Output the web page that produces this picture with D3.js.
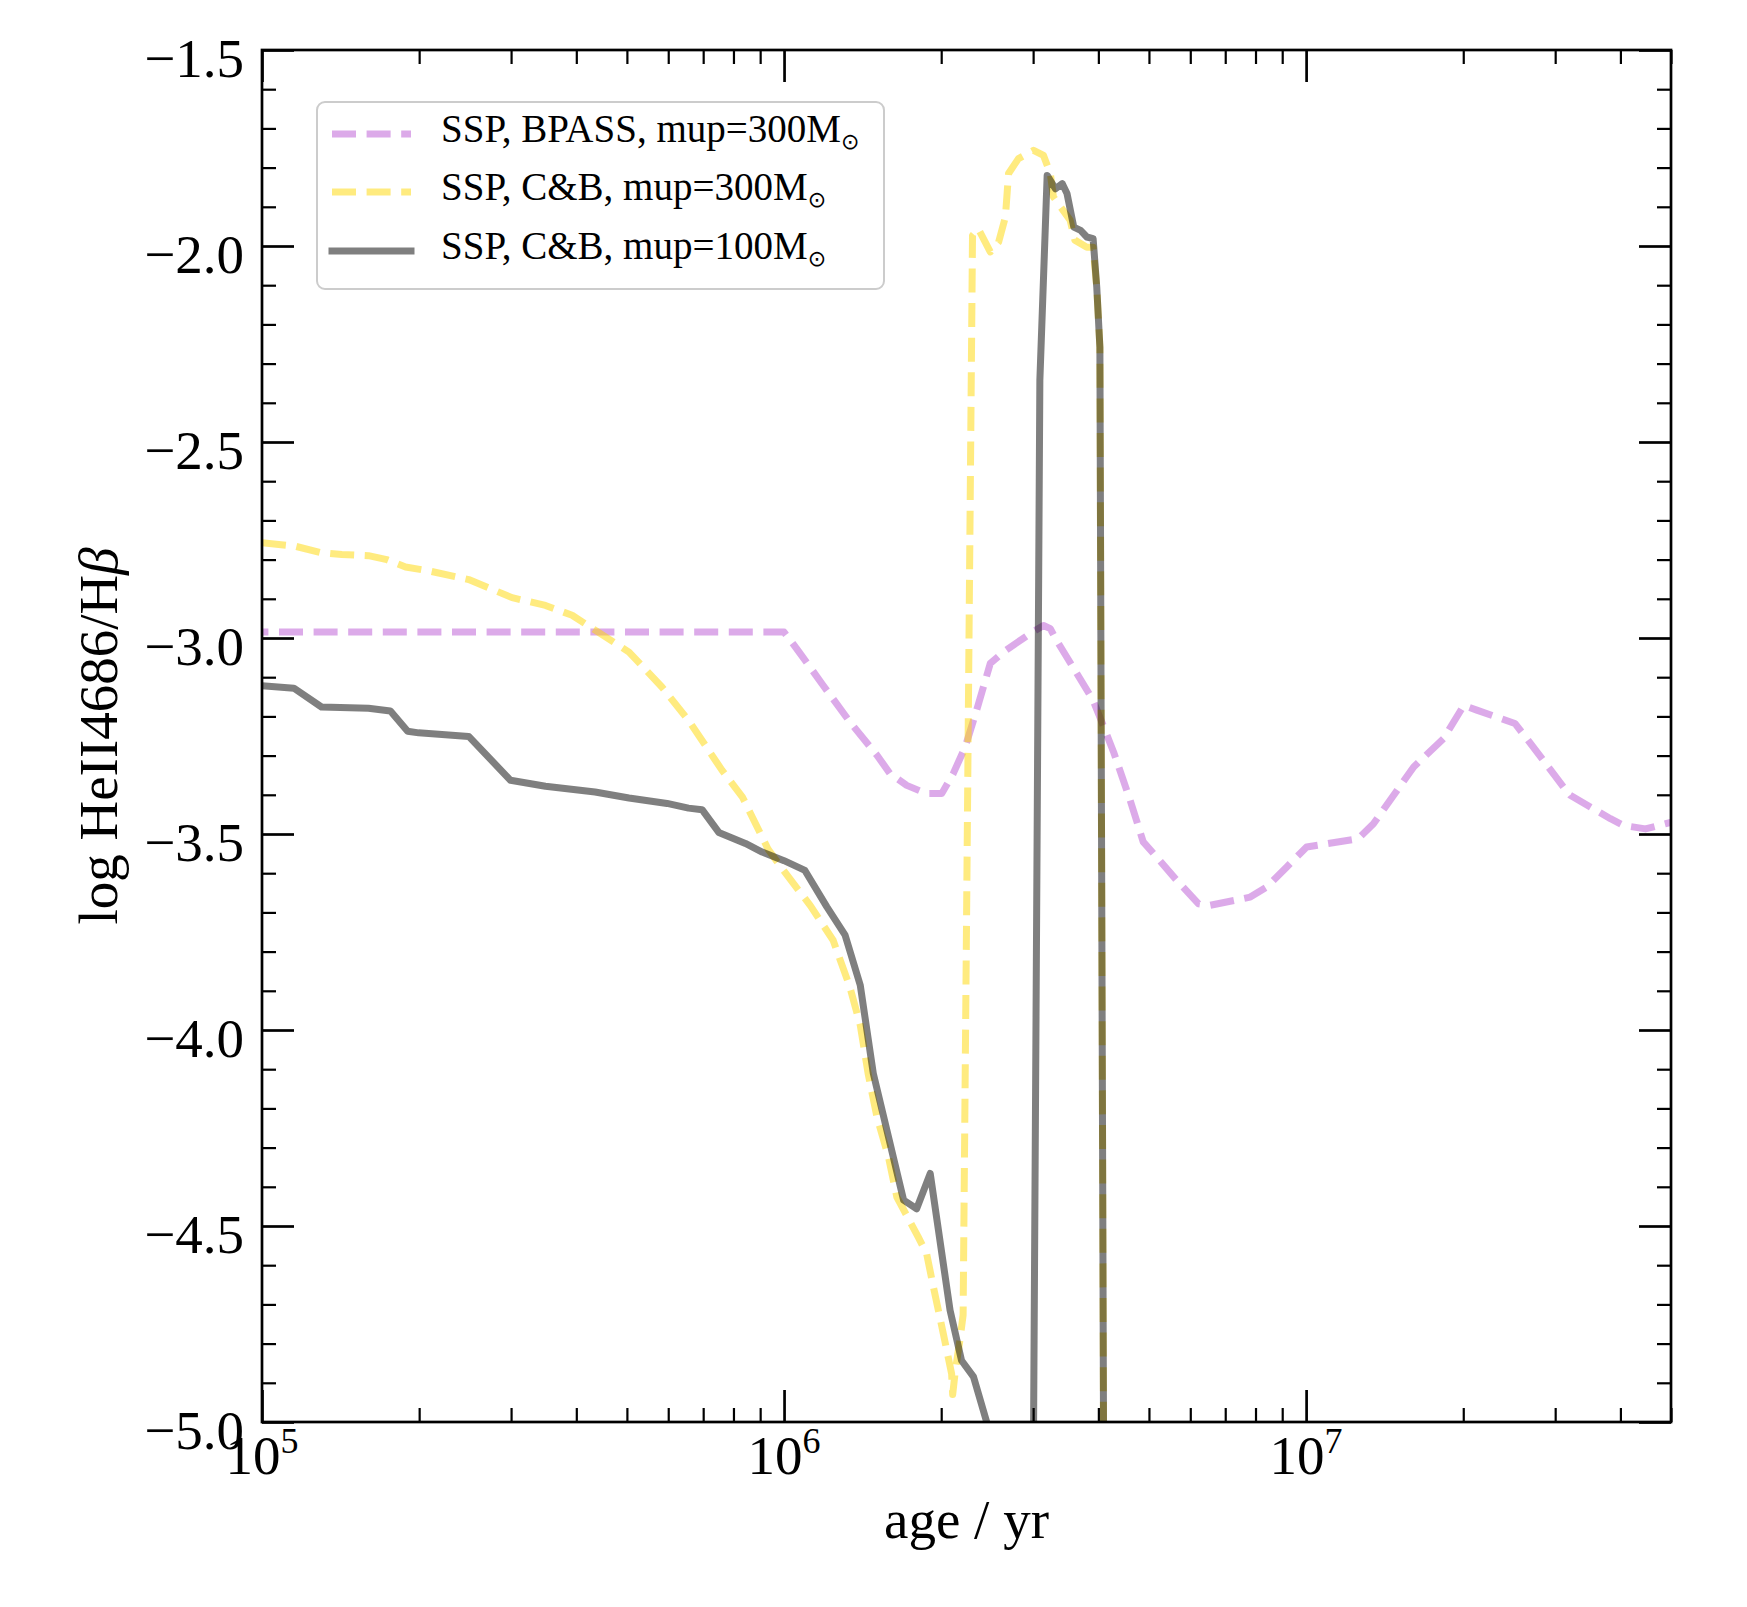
<!DOCTYPE html>
<html>
<head>
<meta charset="utf-8">
<script src="https://cdn.jsdelivr.net/npm/d3@7"></script>
<style>
  body { margin: 0; background: #fff; }
  text { font-family: "Liberation Serif", "DejaVu Serif", serif; fill: #000; }
</style>
</head>
<body>
<div id="chart"></div>
<script>
// values, x as log10(age / yr), y as log HeII4686/Hbeta
const bpassLogAge = [4.9, 6.0, 6.024, 6.075, 6.126, 6.178, 6.203, 6.235, 6.273, 6.302, 6.324, 6.347,
  6.369, 6.395, 6.42, 6.471, 6.497, 6.51, 6.522, 6.567, 6.592, 6.605, 6.631, 6.663, 6.688, 6.714,
  6.752, 6.794, 6.816, 6.893, 6.925, 6.963, 7.001, 7.1, 7.129, 7.206, 7.263, 7.302, 7.327, 7.4,
  7.423, 7.493, 7.506, 7.583, 7.608, 7.65, 7.7];
const bpassRatio = [-2.985, -2.985, -3.027, -3.121, -3.214, -3.299, -3.346, -3.376, -3.397, -3.397,
  -3.346, -3.278, -3.184, -3.065, -3.036, -2.989, -2.968, -2.976, -3.006, -3.104, -3.159, -3.202,
  -3.29, -3.414, -3.52, -3.559, -3.618, -3.678, -3.682, -3.661, -3.635, -3.584, -3.533, -3.512,
  -3.474, -3.329, -3.257, -3.172, -3.184, -3.218, -3.257, -3.38, -3.401, -3.461, -3.478, -3.487, -3.47];

const cb300LogAge = [5.0, 5.064, 5.112, 5.153, 5.204, 5.239, 5.275, 5.32, 5.396, 5.479, 5.543, 5.594,
  5.638, 5.703, 5.766, 5.817, 5.881, 5.92, 5.97, 5.999, 6.05, 6.094, 6.126, 6.146, 6.161, 6.178,
  6.2, 6.216, 6.257, 6.273, 6.286, 6.305, 6.321, 6.323, 6.328, 6.337, 6.343, 6.361, 6.372, 6.395,
  6.411, 6.424, 6.43, 6.449, 6.478, 6.497, 6.51, 6.516, 6.548, 6.557, 6.58, 6.592, 6.599, 6.605,
  6.622, 7.7];
const cb300Ratio = [-2.757, -2.766, -2.782, -2.787, -2.79, -2.8, -2.819, -2.829, -2.851, -2.897,
  -2.917, -2.942, -2.98, -3.036, -3.125, -3.21, -3.337, -3.405, -3.54, -3.593, -3.682, -3.771,
  -3.89, -3.988, -4.111, -4.222, -4.324, -4.426, -4.528, -4.57, -4.655, -4.774, -4.877, -4.93,
  -4.87, -4.79, -4.727, -1.973, -1.956, -2.015, -1.99, -1.926, -1.815, -1.777, -1.756, -1.769,
  -1.815, -1.875, -1.934, -1.985, -2.003, -2.003, -2.105, -2.258, -9, -9];

const cb100LogAge = [5.0, 5.061, 5.114, 5.204, 5.246, 5.279, 5.3, 5.396, 5.476, 5.543, 5.638, 5.703,
  5.776, 5.817, 5.843, 5.875, 5.926, 5.958, 6.0, 6.04, 6.082, 6.117, 6.146, 6.171, 6.229, 6.254,
  6.28, 6.318, 6.34, 6.363, 6.41, 6.44, 6.46, 6.49, 6.504, 6.52, 6.533, 6.542, 6.555, 6.568, 6.58,
  6.592, 6.599, 6.605, 6.622, 7.7];
const cb100Ratio = [-3.122, -3.128, -3.176, -3.179, -3.186, -3.238, -3.242, -3.251, -3.363, -3.378,
  -3.393, -3.408, -3.422, -3.434, -3.438, -3.496, -3.524, -3.546, -3.568, -3.593, -3.686, -3.758,
  -3.886, -4.111, -4.434, -4.456, -4.366, -4.715, -4.843, -4.885, -5.1, -9, -9, -2.343, -1.82,
  -1.854, -1.841, -1.866, -1.952, -1.96, -1.977, -1.981, -2.105, -2.258, -9, -9];

const seriesNames = ["SSP, BPASS, mup=300", "SSP, C&B, mup=300", "SSP, C&B, mup=100"];
const xTickExps = [5, 6, 7];
const yMajorTicks = [-5.0, -4.5, -4.0, -3.5, -3.0, -2.5, -2.0, -1.5];

const WIDTH = 1747, HEIGHT = 1607;
const PLOT = { left: 262, right: 1671, top: 50, bottom: 1422 };
const LW = 7;

const X_SCALE = d3.scaleLog().domain([1e5, 5e7]).range([PLOT.left, PLOT.right]);
const Y_SCALE = d3.scaleLinear().domain([-5, -1.5]).range([PLOT.bottom, PLOT.top]);

const svg = d3.select("#chart").append("svg")
  .attr("width", WIDTH).attr("height", HEIGHT);

svg.append("defs").append("clipPath").attr("id", "plotclip")
  .append("rect")
  .attr("x", PLOT.left).attr("y", PLOT.top)
  .attr("width", PLOT.right - PLOT.left).attr("height", PLOT.bottom - PLOT.top);

const series = [
  { x: bpassLogAge, y: bpassRatio, color: "#ba55d3", dash: "24 10.6", cap: "butt" },
  { x: cb300LogAge, y: cb300Ratio, color: "#ffd700", dash: "24 10.6", cap: "butt" },
  { x: cb100LogAge, y: cb100Ratio, color: "#000000", dash: null, cap: "square" },
];

const line = d3.line()
  .x((d) => X_SCALE(Math.pow(10, d[0])))
  .y((d) => Y_SCALE(d[1]));

const lines = svg.append("g").attr("clip-path", "url(#plotclip)");
series.forEach((s) => {
  lines.append("path")
    .datum(d3.zip(s.x, s.y))
    .attr("d", line)
    .attr("fill", "none")
    .attr("stroke", s.color)
    .attr("stroke-opacity", 0.5)
    .attr("stroke-width", LW)
    .attr("stroke-linejoin", "round")
    .attr("stroke-linecap", s.cap)
    .attr("stroke-dasharray", s.dash);
});

// ticks (inward, all four sides)
const xMajor = xTickExps.map((e) => Math.pow(10, e));
const xMinor = X_SCALE.ticks().filter((v) => !xMajor.includes(v));
const yMinor = d3.range(-50, -14).map((v) => v / 10).filter((v) => Math.abs(v * 2 - Math.round(v * 2)) > 1e-6);

function tickGroup(axis, tx, ty, w) {
  const g = svg.append("g").attr("transform", "translate(" + tx + "," + ty + ")").call(axis);
  g.select(".domain").remove();
  g.selectAll("line").attr("stroke", "#000").attr("stroke-width", w);
  g.selectAll("text").remove();
  return g;
}

tickGroup(d3.axisBottom(X_SCALE).tickValues(xMajor).tickSize(-32), 0, PLOT.bottom, 2.7);
tickGroup(d3.axisBottom(X_SCALE).tickValues(xMinor).tickSize(-14), 0, PLOT.bottom, 2.2);
tickGroup(d3.axisTop(X_SCALE).tickValues(xMajor).tickSize(-32), 0, PLOT.top, 2.7);
tickGroup(d3.axisTop(X_SCALE).tickValues(xMinor).tickSize(-14), 0, PLOT.top, 2.2);
tickGroup(d3.axisLeft(Y_SCALE).tickValues(yMajorTicks).tickSize(-32), PLOT.left, 0, 2.7);
tickGroup(d3.axisLeft(Y_SCALE).tickValues(yMinor).tickSize(-14), PLOT.left, 0, 2.2);
tickGroup(d3.axisRight(Y_SCALE).tickValues(yMajorTicks).tickSize(-32), PLOT.right, 0, 2.7);
tickGroup(d3.axisRight(Y_SCALE).tickValues(yMinor).tickSize(-14), PLOT.right, 0, 2.2);

// frame
svg.append("rect")
  .attr("x", PLOT.left).attr("y", PLOT.top)
  .attr("width", PLOT.right - PLOT.left).attr("height", PLOT.bottom - PLOT.top)
  .attr("fill", "none").attr("stroke", "#000").attr("stroke-width", 2.7);

// y tick labels
svg.append("g").selectAll("text")
  .data(yMajorTicks)
  .enter()
  .append("text")
  .attr("x", PLOT.left - 18)
  .attr("y", (d) => Y_SCALE(d) + 27)
  .attr("text-anchor", "end")
  .attr("font-size", "55px")
  .text((d) => d3.format(".1f")(d));

// x tick labels 10^n
const xl = svg.append("g").selectAll("text")
  .data(xTickExps)
  .enter()
  .append("text")
  .attr("x", (d) => X_SCALE(Math.pow(10, d)))
  .attr("y", 1474)
  .attr("text-anchor", "middle")
  .attr("font-size", "55px");
xl.append("tspan").text("10");
xl.append("tspan").attr("font-size", "36px").attr("dy", -21).text((d) => d);

// axis labels
svg.append("text")
  .attr("x", (PLOT.left + PLOT.right) / 2)
  .attr("y", 1538)
  .attr("text-anchor", "middle")
  .attr("font-size", "55px")
  .text("age / yr");

const yl = svg.append("text")
  .attr("transform", "translate(117," + (PLOT.top + PLOT.bottom) / 2 + ") rotate(-90)")
  .attr("text-anchor", "middle")
  .attr("font-size", "55px");
yl.append("tspan").text("log HeII4686/H");
yl.append("tspan").attr("font-style", "italic").text("\u03b2");

// legend
const legend = svg.append("g");
legend.append("rect")
  .attr("x", 317).attr("y", 102)
  .attr("width", 567).attr("height", 187)
  .attr("rx", 8).attr("ry", 8)
  .attr("fill", "#fff").attr("fill-opacity", 0.8)
  .attr("stroke", "#cccccc").attr("stroke-width", 2);

const rowY = [134, 192, 251];
series.forEach((s, i) => {
  legend.append("line")
    .attr("x1", 332).attr("x2", 411)
    .attr("y1", rowY[i]).attr("y2", rowY[i])
    .attr("stroke", s.color)
    .attr("stroke-opacity", 0.5)
    .attr("stroke-width", LW)
    .attr("stroke-linecap", s.cap)
    .attr("stroke-dasharray", s.dash);
  const t = legend.append("text")
    .attr("x", 441)
    .attr("y", rowY[i] + 8)
    .attr("font-size", "39px");
  t.append("tspan").text(seriesNames[i] + "M");
  t.append("tspan")
    .attr("font-family", "DejaVu Sans")
    .attr("font-size", "22px")
    .attr("dy", 7)
    .text("\u2299");
});
</script>
</body>
</html>
